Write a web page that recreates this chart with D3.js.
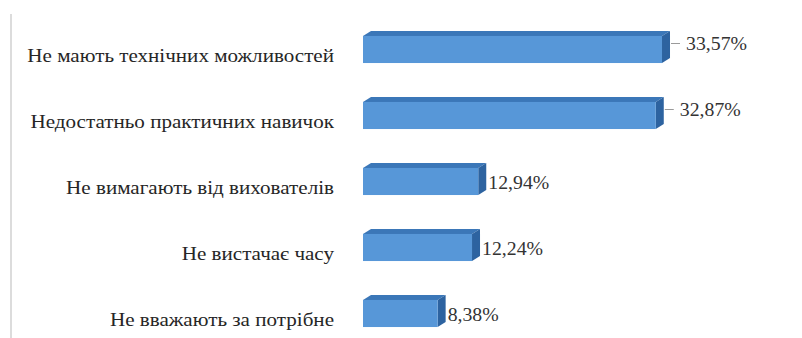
<!DOCTYPE html>
<html>
<head>
<meta charset="utf-8">
<script src="https://cdn.jsdelivr.net/npm/d3@7"></script>
<style>
  html, body { margin: 0; padding: 0; background: #fff; }
  svg { display: block; }
</style>
</head>
<body>
<svg id="chart" width="802" height="338"></svg>
<script>
const categories = [
  "Не мають технічних можливостей",
  "Недостатньо практичних навичок",
  "Не вимагають від вихователів",
  "Не вистачає часу",
  "Не вважають за потрібне"
];
const values = [33.57, 32.87, 12.94, 12.24, 8.38];
const valueLabels = ["33,57%", "32,87%", "12,94%", "12,24%", "8,38%"];

const svg = d3.select("#chart");
const W = 802, H = 338;
const FONT = '"Liberation Serif"';
const catStretch = 1.11;
const valStretch = 1.1;

const x = d3.scaleLinear().domain([0, 40]).range([363, 363 + 8.907 * 40]);
const y = d3.scaleBand().domain(categories).range([16.5, 346.5])
  .paddingInner(0.59).paddingOuter(0.295);

const dx = 8, dy = 5;

svg.append("line").attr("x1", 11).attr("x2", 11).attr("y1", 14).attr("y2", H)
  .attr("stroke", "#dcdcdc").attr("stroke-width", 2);

const data = categories.map((c, i) => ({ c, v: values[i], lab: valueLabels[i] }));

const g = svg.append("g");
const bars = g.selectAll("g.bar").data(data).join("g").attr("class", "bar");

bars.append("path")
  .attr("d", d => {
    const x0 = x(0), x1 = x(d.v), y0 = y(d.c);
    return `M${x0},${y0} L${x0 + dx},${y0 - dy} L${x1 + dx},${y0 - dy} L${x1},${y0} Z`;
  })
  .attr("fill", "#3b77b8");

bars.append("path")
  .attr("d", d => {
    const x1 = x(d.v), y0 = y(d.c), y1 = y0 + y.bandwidth();
    return `M${x1},${y0} L${x1 + dx},${y0 - dy} L${x1 + dx},${y1 - dy} L${x1},${y1} Z`;
  })
  .attr("fill", "#2d63a0");

bars.append("rect")
  .attr("x", x(0))
  .attr("y", d => y(d.c))
  .attr("width", d => x(d.v) - x(0))
  .attr("height", y.bandwidth())
  .attr("fill", "#5797d8");

bars.filter(d => d.v > 20).append("line")
  .attr("x1", d => x(d.v) + dx + 1)
  .attr("x2", d => x(d.v) + dx + 10)
  .attr("y1", d => y(d.c) + y.bandwidth() / 2 - 6)
  .attr("y2", d => y(d.c) + y.bandwidth() / 2 - 6)
  .attr("stroke", "#9a9a9a").attr("stroke-width", 1);

bars.append("text")
  .attr("transform", d => `translate(${x(d.v) + dx + (d.v > 20 ? 16 : 2)},${y(d.c) + y.bandwidth() / 2 + (d.v > 20 ? -6 : 1)}) scale(${valStretch},1)`)
  .attr("dy", "0.35em")
  .style("font-family", FONT)
  .attr("font-size", 18)
  .attr("fill", "#333")
  .text(d => d.lab);

g.selectAll("text.cat").data(data).join("text").attr("class", "cat")
  .attr("transform", d => `translate(334,${y(d.c) + y.bandwidth() / 2 + 6}) scale(${catStretch},1)`)
  .attr("dy", "0.35em")
  .attr("text-anchor", "end")
  .style("font-family", FONT)
  .attr("font-size", 19)
  .attr("fill", "#262626")
  .text(d => d.c);
</script>
</body>
</html>
